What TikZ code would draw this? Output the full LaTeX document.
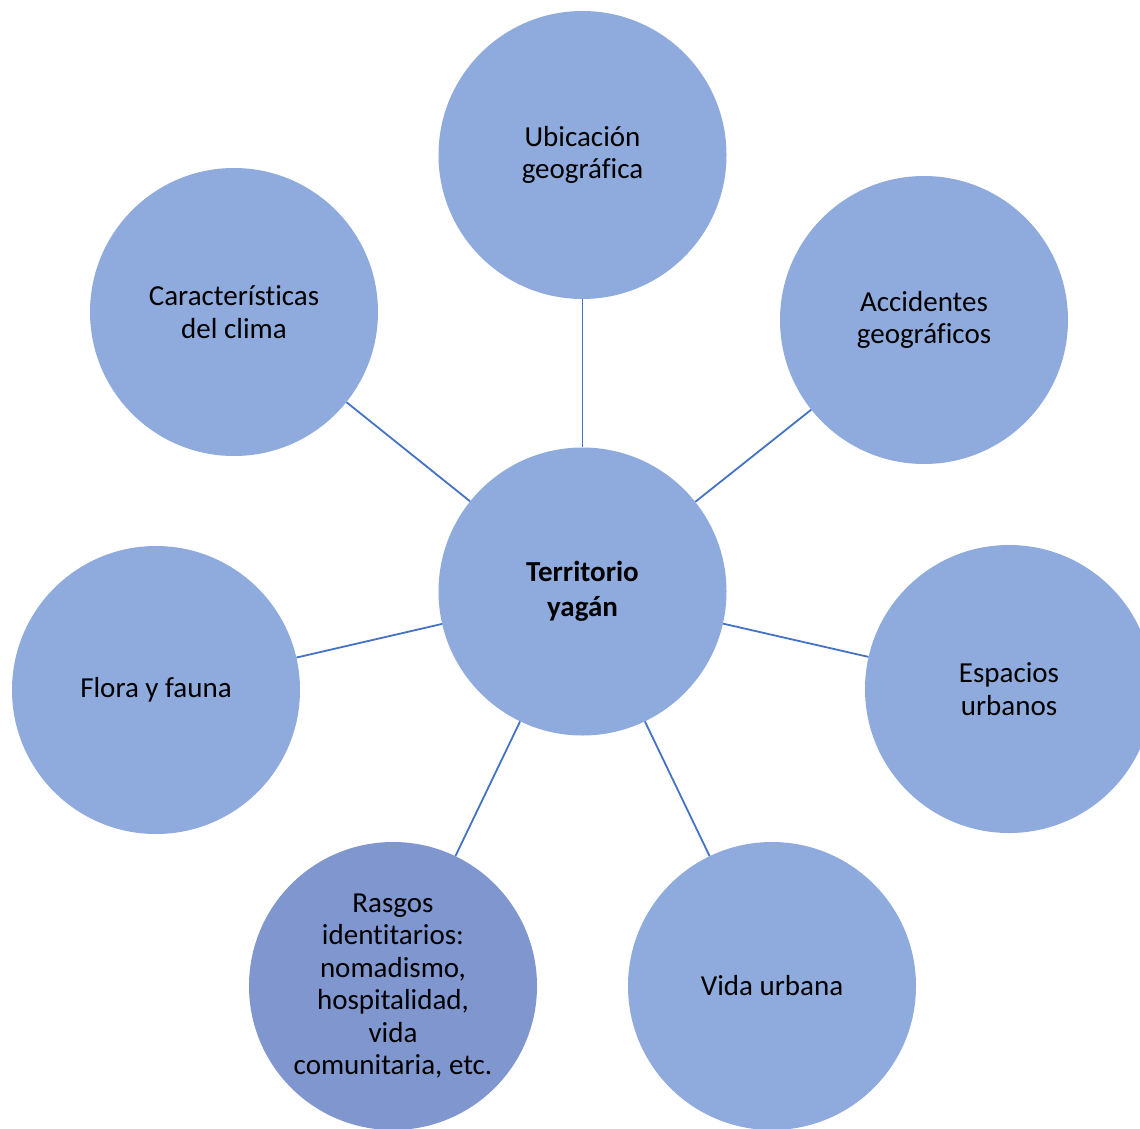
\documentclass[tikz,border=0pt]{standalone}
\usepackage{fontspec}
\setmainfont{Carlito}[Ligatures=NoCommon]
\definecolor{circfill}{HTML}{8FAADC}
\definecolor{circdark}{HTML}{7F96CE}
\definecolor{linkcol}{HTML}{4472C4}
\begin{document}
\begin{tikzpicture}[x=1pt,y=-1pt,
  bubble/.style={circle,fill=circfill,minimum size=288pt,inner sep=0pt,align=center,
    font=\fontsize{29}{32.5}\selectfont},
  darkbubble/.style={bubble,fill=circdark},
  link/.style={draw=linkcol,line width=1.8pt}]
\clip (0,0) rectangle (1140,1129);
\fill[white] (0,0) rectangle (1140,1129);
\node[bubble,font=\fontsize{29}{35}\selectfont] (ctr) at (582.5,591.5) {\textbf{Territorio}\\\textbf{yagán}};
\node[bubble] (ubic) at (582.5,155) {Ubicación\\geográfica};
\node[bubble] (clima) at (234,312) {Características\\del clima};
\node[bubble] (acc) at (924,320) {Accidentes\\geográficos};
\node[bubble] (flora) at (156,690) {Flora y fauna};
\node[bubble] (esp) at (1009,689) {Espacios\\urbanos};
\node[darkbubble] (rasgos) at (393,986) {Rasgos\\identitarios:\\nomadismo,\\hospitalidad,\\vida\\comunitaria, etc.};
\node[bubble] (vida) at (772,986) {Vida urbana};
\draw[link] (ctr) -- (ubic);
\draw[link] (ctr) -- (clima);
\draw[link] (ctr) -- (acc);
\draw[link] (ctr) -- (flora);
\draw[link] (ctr) -- (esp);
\draw[link] (ctr) -- (rasgos);
\draw[link] (ctr) -- (vida);
\end{tikzpicture}
\end{document}
